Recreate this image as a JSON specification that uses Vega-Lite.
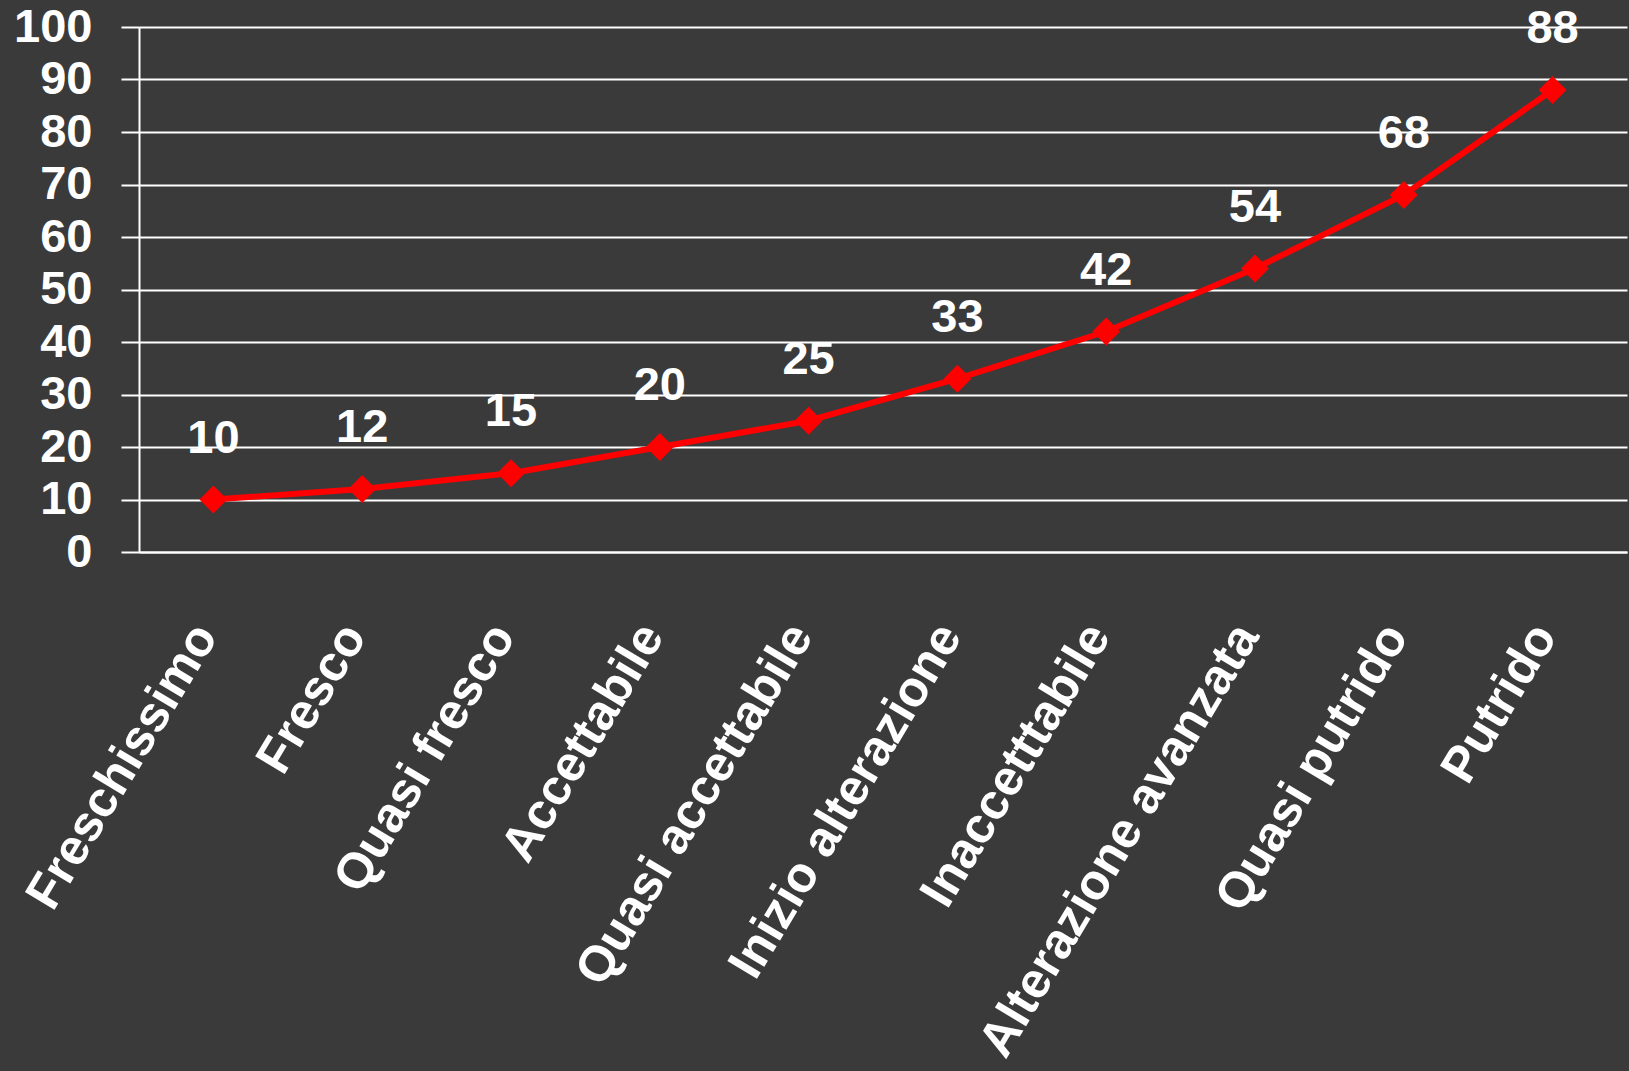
{
  "$schema": "https://vega.github.io/schema/vega-lite/v6.json",
  "width": 1488,
  "height": 525,
  "autosize": {"type": "none"},
  "padding": {"left": 139, "top": 27, "right": 2, "bottom": 519},
  "background": "#3a3a3a",
  "data": {
    "values": [
      {"stato": "Freschissimo", "valore": 10},
      {"stato": "Fresco", "valore": 12},
      {"stato": "Quasi fresco", "valore": 15},
      {"stato": "Accettabile", "valore": 20},
      {"stato": "Quasi accettabile", "valore": 25},
      {"stato": "Inizio alterazione", "valore": 33},
      {"stato": "Inaccetttabile", "valore": 42},
      {"stato": "Alterazione avanzata", "valore": 54},
      {"stato": "Quasi putrido", "valore": 68},
      {"stato": "Putrido", "valore": 88}
    ]
  },
  "config": {
    "view": {"stroke": null},
    "font": "Liberation Sans"
  },
  "encoding": {
    "x": {
      "field": "stato",
      "type": "nominal",
      "sort": null,
      "scale": {"paddingInner": 0, "paddingOuter": 0.5},
      "axis": {
        "title": null,
        "labelAngle": -59,
        "labelAlign": "right",
        "labelBaseline": "middle",
        "labelFont": "Liberation Sans",
        "labelFontWeight": "bold",
        "labelFontSize": 50,
        "labelColor": "#ffffff",
        "labelPadding": 76,
        "labelOffset": -8,
        "labelLimit": 0,
        "ticks": false,
        "domain": true,
        "domainColor": "#ffffff",
        "domainWidth": 2,
        "grid": false
      }
    },
    "y": {
      "field": "valore",
      "type": "quantitative",
      "scale": {"domain": [0, 100], "nice": false},
      "axis": {
        "title": null,
        "values": [0, 10, 20, 30, 40, 50, 60, 70, 80, 90, 100],
        "labelFont": "Liberation Sans",
        "labelFontWeight": "bold",
        "labelFontSize": 47,
        "labelColor": "#ffffff",
        "labelPadding": 29,
        "labelBaseline": "middle",
        "tickSize": 18,
        "tickColor": "#ffffff",
        "tickWidth": 2,
        "domainColor": "#ffffff",
        "domainWidth": 2,
        "grid": true,
        "gridColor": "#ffffff",
        "gridWidth": 2,
        "gridOpacity": 1
      }
    }
  },
  "layer": [
    {
      "mark": {"type": "line", "color": "#ff0000", "strokeWidth": 6}
    },
    {
      "mark": {"type": "point", "shape": "diamond", "size": 780, "filled": true, "color": "#ff0000", "opacity": 1}
    },
    {
      "mark": {"type": "text", "color": "#ffffff", "font": "Liberation Sans", "fontWeight": "bold", "fontSize": 47, "baseline": "alphabetic", "dy": -47},
      "encoding": {"text": {"field": "valore", "type": "quantitative"}}
    }
  ]
}
